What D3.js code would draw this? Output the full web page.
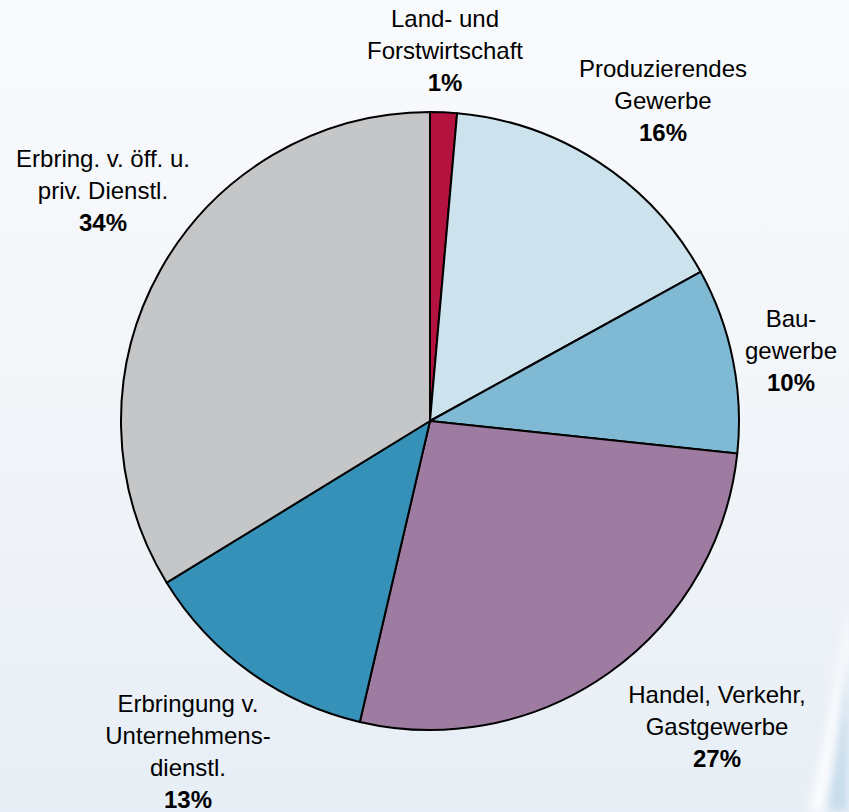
<!DOCTYPE html>
<html>
<head>
<meta charset="utf-8">
<script src="https://cdn.jsdelivr.net/npm/d3@7/dist/d3.min.js"></script>
<style>
html,body{margin:0;padding:0;background:#fff;}
svg{display:block;}
</style>
</head>
<body>
<svg id="chart" width="849" height="812"></svg>
<script>
// ---- data ----
const categories = [
  ["Land- und", "Forstwirtschaft"],
  ["Produzierendes", "Gewerbe"],
  ["Bau-", "gewerbe"],
  ["Handel, Verkehr,", "Gastgewerbe"],
  ["Erbringung v.", "Unternehmens-", "dienstl."],
  ["Erbring. v. öff. u.", "priv. Dienstl."]
];
const values = [1.4, 15.6, 9.7, 27.0, 12.6, 33.8];
const colors = ["#B5133F", "#CCE3EE", "#80B9D3", "#9E7BA1", "#3591B8", "#C5C6C8"];

// ---- layout (not data) ----
const labelAnchors = [[445, 27], [663, 77], [791, 327], [717, 703], [188, 712], [103, 167]];

const W = 849, H = 812;
const cx = 430, cy = 421, R = 309;
const svg = d3.select("#chart");

// background
const defs = svg.append("defs");
const bg = defs.append("linearGradient").attr("id", "bg").attr("x1", 0).attr("y1", 0).attr("x2", 0).attr("y2", 1);
bg.append("stop").attr("offset", "0%").attr("stop-color", "#F9FAFC");
bg.append("stop").attr("offset", "50%").attr("stop-color", "#F2F5F9");
bg.append("stop").attr("offset", "100%").attr("stop-color", "#E7EEF5");
const blur = defs.append("filter").attr("id", "blur").attr("x", "-50%").attr("y", "-50%").attr("width", "200%").attr("height", "200%");
blur.append("feGaussianBlur").attr("stdDeviation", 5);

svg.append("rect").attr("width", W).attr("height", H).attr("fill", "url(#bg)");
// swoosh bottom-right
svg.append("path")
  .attr("d", "M849,600 Q835,700 808,812 L849,812 Z")
  .attr("fill", "#FBFCFE").attr("filter", "url(#blur)");
svg.append("path")
  .attr("d", "M849,655 Q838,740 826,812 L849,812 Z")
  .attr("fill", "#C8DCEB").attr("filter", "url(#blur)");

// pie
const pie = d3.pie().sort(null).value(d => d)(values);
const arc = d3.arc().innerRadius(0).outerRadius(R);
const g = svg.append("g").attr("transform", `translate(${cx},${cy})`);
g.selectAll("path.slice").data(pie).join("path")
  .attr("class", "slice")
  .attr("d", arc)
  .attr("fill", (d, i) => colors[i])
  .attr("stroke", "#000")
  .attr("stroke-width", 2)
  .attr("stroke-linejoin", "round");

// labels
const fmt = v => Math.round(v) + "%";
const lh = 32;
const lbl = svg.append("g")
  .attr("font-family", "'Liberation Sans', Arial, Helvetica, sans-serif")
  .attr("font-size", 24)
  .attr("fill", "#000")
  .attr("text-anchor", "middle");
categories.forEach((lines, i) => {
  const [x, y] = labelAnchors[i];
  const t = lbl.append("text").attr("x", x).attr("y", y);
  lines.forEach((ln, j) => {
    t.append("tspan").attr("x", x).attr("y", y + j * lh).text(ln);
  });
  t.append("tspan").attr("x", x).attr("y", y + lines.length * lh)
    .attr("font-weight", "bold").text(fmt(values[i]));
});
</script>
</body>
</html>
